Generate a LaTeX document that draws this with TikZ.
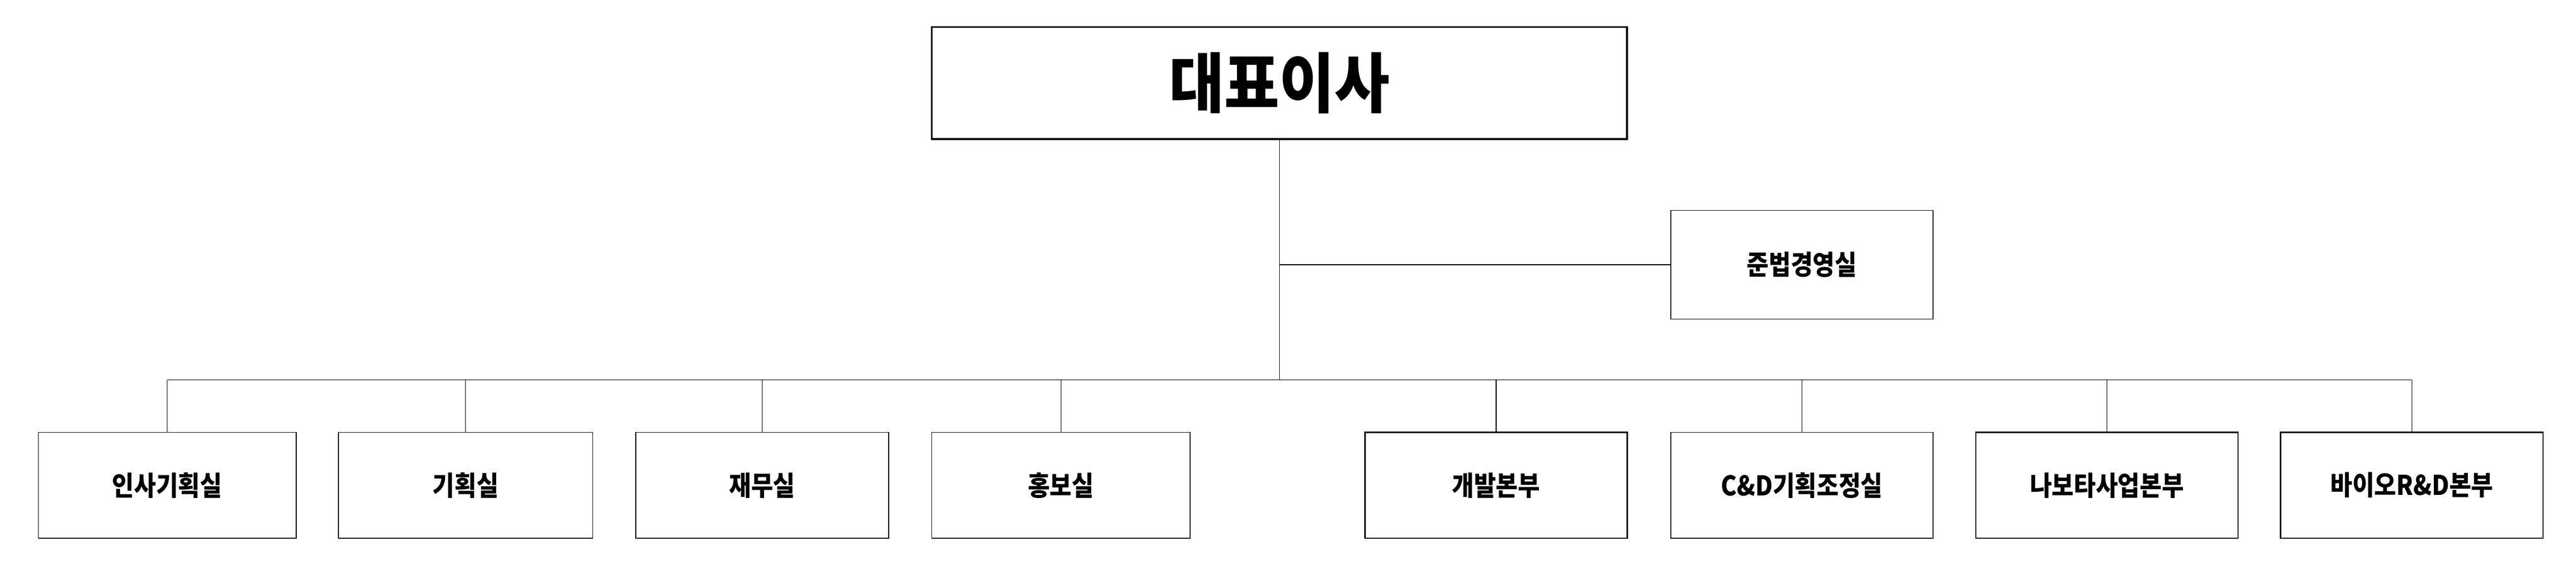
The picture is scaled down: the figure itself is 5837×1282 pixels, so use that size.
\documentclass[tikz,border=0pt]{standalone}
\usepackage{fontspec}
\usepackage{graphicx}
\newfontfamily\kofont{Noto Sans CJK KR}
\newcommand{\narrowtext}[1]{\scalebox{0.88}[1]{#1}}
\tikzset{
  orgbox/.style = {draw, inner sep = 0pt, minimum height = 2.4cm, line width = 0.5pt,
    font = \kofont\bfseries\fontsize{17.5}{19}\selectfont},
  boldbox/.style = {orgbox, line width = 0.9pt},
  headbox/.style = {draw, inner sep = 0pt, line width = 1.1pt, minimum width = 15.74cm, minimum height = 2.54cm,
    font = \kofont\bfseries\fontsize{42}{45}\selectfont},
  orgline/.style = {line width = 0.45pt, black}
}
\begin{document}
\begin{tikzpicture}[x = 0.01cm, y = -0.01cm]
\useasboundingbox (0, 0) rectangle (5837, 1282);
\node[headbox] (ceo) at (2899, 188) {\scalebox{0.92}[1]{대표이사}};
\node[orgbox, minimum width = 5.94cm, minimum height = 2.46cm] (comp) at (4083, 600) {\narrowtext{준법경영실}};
\coordinate (bus) at (0, 861);
\node[orgbox, minimum width = 5.84cm] (hr) at (379, 1100) {\narrowtext{인사기획실}};
\node[orgbox, minimum width = 5.76cm] (plan) at (1055, 1100) {\narrowtext{기획실}};
\node[orgbox, minimum width = 5.73cm] (fin) at (1727, 1100) {\narrowtext{재무실}};
\node[orgbox, minimum width = 5.85cm] (pr) at (2404, 1100) {\narrowtext{홍보실}};
\node[boldbox, minimum width = 5.94cm] (dev) at (3390, 1100) {\narrowtext{개발본부}};
\node[orgbox, minimum width = 5.94cm] (cnd) at (4083, 1100) {\narrowtext{C\&D기획조정실}};
\node[boldbox, minimum width = 5.94cm] (nabota) at (4774, 1100) {\narrowtext{나보타사업본부}};
\node[boldbox, minimum width = 5.94cm] (bio) at (5465, 1100) {\narrowtext{바이오R\&D본부}};
\draw[orgline] (ceo.south) -- (ceo.south |- bus);
\draw[orgline] (ceo.south |- comp.west) -- (comp.west);
\draw[orgline] (hr.north |- bus) -- (bio.north |- bus);
\foreach \unit in {hr, plan, fin, pr, dev, cnd, nabota, bio}
  \draw[orgline] (\unit.north |- bus) -- (\unit.north);
\end{tikzpicture}
\end{document}
